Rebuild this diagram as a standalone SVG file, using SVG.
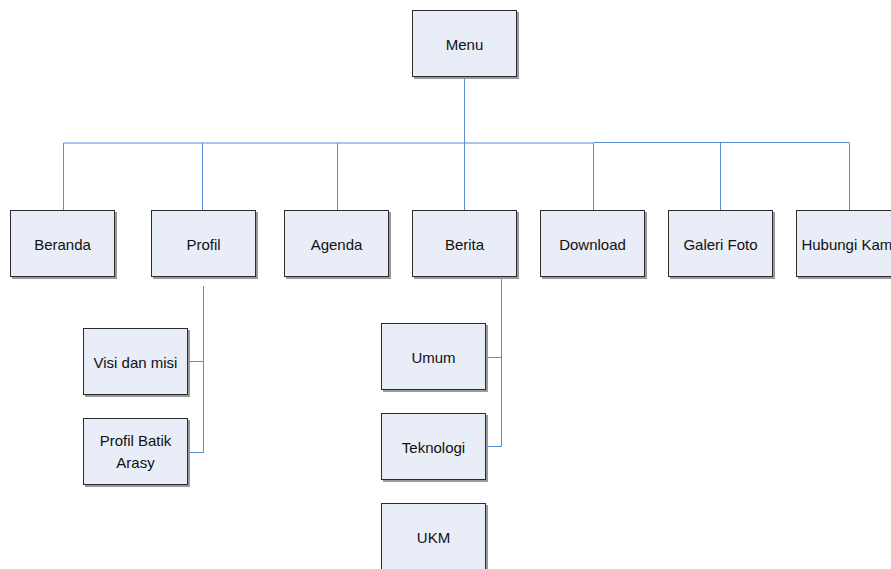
<svg xmlns="http://www.w3.org/2000/svg" width="891" height="569" viewBox="0 0 891 569">
<defs>
<style>
.box{fill:#e8edf8;stroke:#2b2b2b;stroke-width:1}
.sh{fill:#9a9a9a}
.t{font-family:"Liberation Sans",Arial,sans-serif;font-size:15px;fill:#111;text-anchor:middle}
.c{fill:none;stroke:#5b8ad6;stroke-width:1}
</style>
</defs>
<rect width="891" height="569" fill="#fff"/>
<g id="connectors">
<path class="c" d="M464.5 77V143"/>
<path class="c" d="M63.5 143H593.5M593.5 142.5H849.5"/>
<path class="c" d="M63.5 143V210M202.5 143V210M337.5 143V210M464.5 143V210M593.5 143V210M720.5 143V210M849.5 143V210"/>
<path class="c" d="M203.5 286V452.5M188 361.5H203.5M188 452.5H203.5"/>
<path class="c" d="M501.5 277V446.5M486 357.5H501.5M486 446.5H501.5"/>
</g>
<g id="menu"><rect class="sh" x="414" y="12" width="105" height="67"/><rect class="box" x="412.5" y="10.5" width="104" height="66"/><text class="t" x="464.5" y="50">Menu</text></g>
<g id="beranda"><rect class="sh" x="12" y="212" width="105" height="67"/><rect class="box" x="10.5" y="210.5" width="104" height="66"/><text class="t" x="62.5" y="250">Beranda</text></g>
<g id="profil"><rect class="sh" x="153" y="212" width="105" height="67"/><rect class="box" x="151.5" y="210.5" width="104" height="66"/><text class="t" x="203.5" y="250">Profil</text></g>
<g id="agenda"><rect class="sh" x="286" y="212" width="105" height="67"/><rect class="box" x="284.5" y="210.5" width="104" height="66"/><text class="t" x="336.5" y="250">Agenda</text></g>
<g id="berita"><rect class="sh" x="414" y="212" width="105" height="67"/><rect class="box" x="412.5" y="210.5" width="104" height="66"/><text class="t" x="464.5" y="250">Berita</text></g>
<g id="download"><rect class="sh" x="542" y="212" width="105" height="67"/><rect class="box" x="540.5" y="210.5" width="104" height="66"/><text class="t" x="592.5" y="250">Download</text></g>
<g id="galeri"><rect class="sh" x="670" y="212" width="105" height="67"/><rect class="box" x="668.5" y="210.5" width="104" height="66"/><text class="t" x="720.5" y="250">Galeri Foto</text></g>
<g id="hubungi"><rect class="sh" x="798" y="212" width="105" height="67"/><rect class="box" x="796.5" y="210.5" width="104" height="66"/><text class="t" x="848.5" y="250">Hubungi Kami</text></g>
<g id="visi"><rect class="sh" x="85" y="330" width="105" height="67"/><rect class="box" x="83.5" y="328.5" width="104" height="66"/><text class="t" x="135.5" y="368">Visi dan misi</text></g>
<g id="profilbatik"><rect class="sh" x="85" y="420" width="105" height="67"/><rect class="box" x="83.5" y="418.5" width="104" height="66"/><text class="t" x="135.5" y="446">Profil Batik</text><text class="t" x="135.5" y="468">Arasy</text></g>
<g id="umum"><rect class="sh" x="383" y="325" width="105" height="67"/><rect class="box" x="381.5" y="323.5" width="104" height="66"/><text class="t" x="433.5" y="363">Umum</text></g>
<g id="teknologi"><rect class="sh" x="383" y="415" width="105" height="67"/><rect class="box" x="381.5" y="413.5" width="104" height="66"/><text class="t" x="433.5" y="453">Teknologi</text></g>
<g id="ukm"><rect class="sh" x="383" y="505" width="105" height="67"/><rect class="box" x="381.5" y="503.5" width="104" height="70"/><text class="t" x="433.5" y="543">UKM</text></g>
</svg>
